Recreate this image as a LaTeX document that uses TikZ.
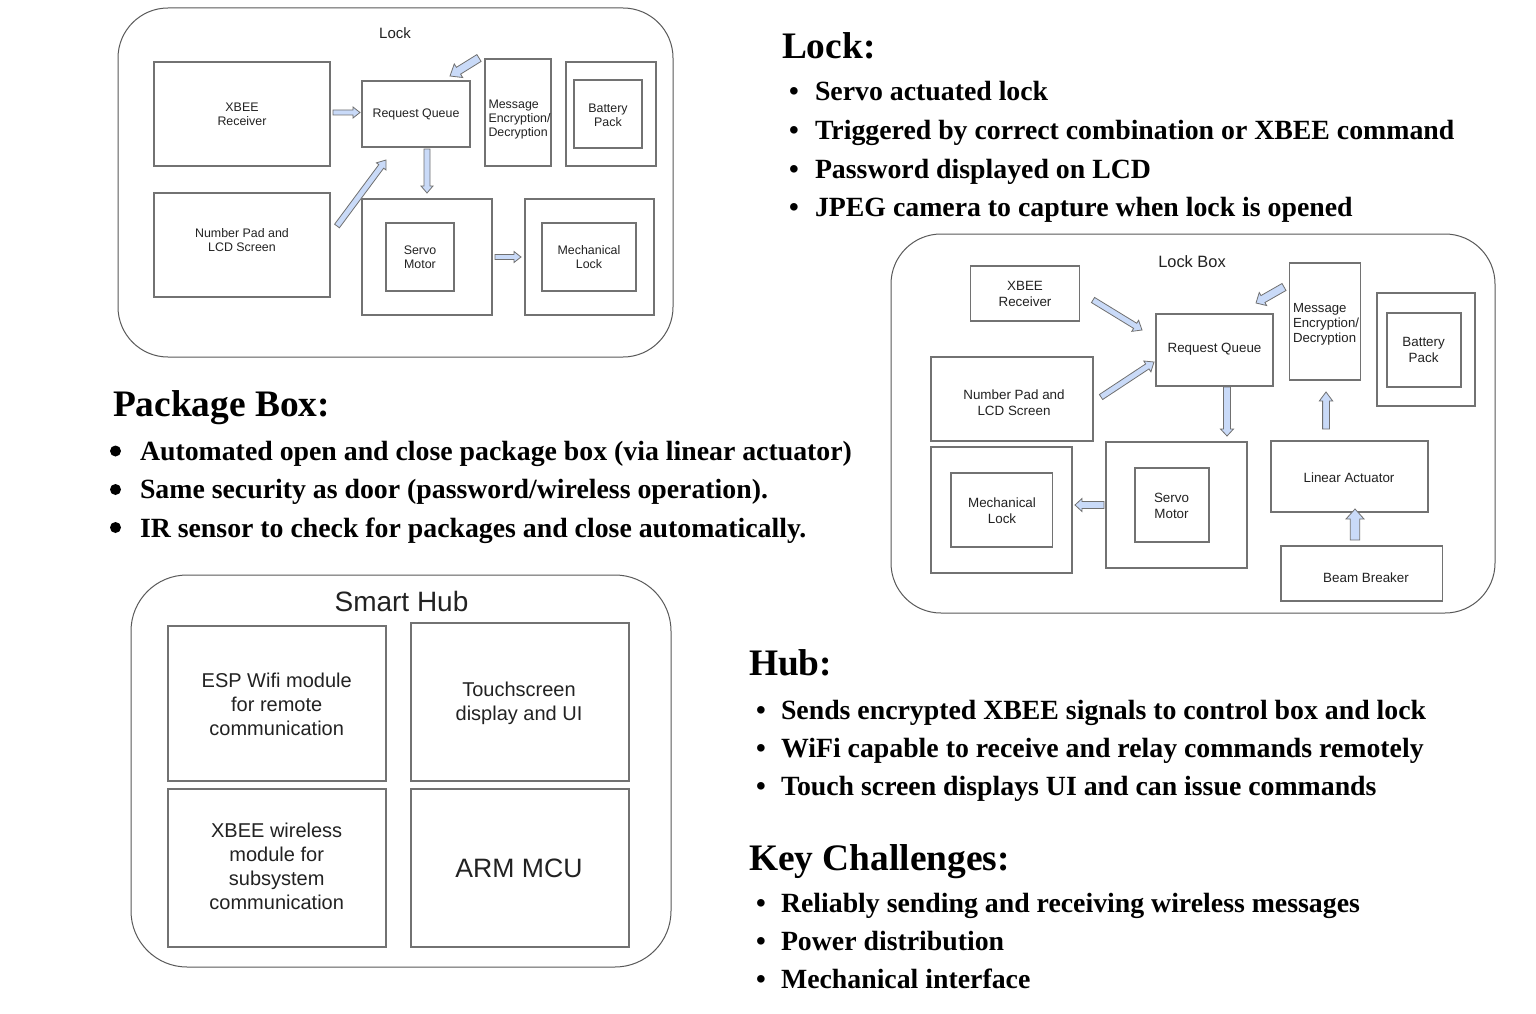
\documentclass[tikz,border=0pt]{standalone}
\usepackage{fontspec}
\setmainfont{Liberation Serif}
\newfontfamily\arialf{Liberation Sans}
\usetikzlibrary{calc}
\definecolor{arrowfill}{HTML}{C9DAF8}
\definecolor{arrowline}{HTML}{707070}
\definecolor{boxline}{HTML}{727272}
\definecolor{txt}{HTML}{222222}
\tikzset{
 every node/.style={inner sep=0pt, outer sep=0pt},
 box/.style={draw=boxline, line width=1.1pt, rectangle},
 outerbox/.style={draw=black!65, line width=1pt, rounded corners=50pt},
 lbl/.style={font=\arialf\fontsize{12.4}{14}\selectfont, align=center, text=txt},
 lblB/.style={font=\arialf\fontsize{13.4}{16}\selectfont, align=center, text=txt},
 lblH/.style={font=\arialf\fontsize{20}{24}\selectfont, align=center, text=txt},
 blockarrow/.style={draw=arrowline, fill=arrowfill, line width=0.8pt, line join=miter},
 heading/.style={font=\bfseries\fontsize{37.4}{44}\selectfont, anchor=base west},
 bul/.style={font=\bfseries\fontsize{27.8}{33}\selectfont, anchor=base west},
 dotbul/.style={circle, fill=black, minimum size=11pt},
}
\newcommand\blkarrow[6]{%
 \coordinate (#1h) at ($(#3)!#6!(#2)$);
 \draw[blockarrow] ($(#2)!#4!90:(#3)$) -- ($(#1h)!#4!-90:(#2)$) -- ($(#1h)!#5!-90:(#2)$) -- (#3) -- ($(#1h)!#5!90:(#2)$) -- ($(#1h)!#4!90:(#2)$) -- ($(#2)!#4!-90:(#3)$) -- cycle;}
\begin{document}
\begin{tikzpicture}[x=1pt,y=-1pt]
\useasboundingbox[fill=white] (0,0) rectangle (1536,1014);

% ================= Lock diagram =================
\draw[outerbox] (118,8) rectangle (673,357);
\node[lbl, font=\arialf\fontsize{15}{18}\selectfont] (lockT) at (395,33) {Lock};
\node[box, minimum width=176, minimum height=104] (lxbee) at (242,114) {};
\node[lbl] (lxbeeT) at (242,114) {XBEE\\Receiver};
\node[box, minimum width=108, minimum height=66] (lrq) at (416,114) {};
\node[lbl] (lrqT) at (416,114) {Request Queue};
\node[box, minimum width=66, minimum height=107] (lmsg) at (518,112.5) {};
\node[lbl, align=left, anchor=west] (lmsgT) at (488.5,120) {Message\\Encryption/\\Decryption};
\node[box, minimum width=90, minimum height=104] (lbato) at (611,114) {};
\node[box, minimum width=68, minimum height=68] (lbati) at (608,114) {};
\node[lbl] (lbatT) at (608,115) {Battery\\Pack};
\node[box, minimum width=176, minimum height=104] (lnum) at (242,245) {};
\node[lbl] (lnumT) at (242,240) {Number Pad and\\LCD Screen};
\node[box, minimum width=130, minimum height=116] (lsrvo) at (427,257) {};
\node[box, minimum width=68, minimum height=68] (lsrvi) at (420,257) {};
\node[lbl] (lsrvT) at (420,257.5) {Servo\\Motor};
\node[box, minimum width=129, minimum height=116] (lmecho) at (589.5,257) {};
\node[box, minimum width=94, minimum height=68] (lmechi) at (589,257) {};
\node[lbl] (lmechT) at (589,257.5) {Mechanical\\Lock};

\coordinate (a1s) at (333,112.5); \coordinate (a1e) at (360,112.5);
\coordinate (a2s) at (427,149); \coordinate (a2e) at (427,193);
\coordinate (a3s) at (337,226); \coordinate (a3e) at (386,160);
\coordinate (a4s) at (479,58); \coordinate (a4e) at (450,76);
\coordinate (a5s) at (495,257); \coordinate (a5e) at (521,257);
\blkarrow{a1}{a1s}{a1e}{2.5pt}{5.5pt}{7pt}
\blkarrow{a2}{a2s}{a2e}{3pt}{6pt}{7pt}
\blkarrow{a3}{a3s}{a3e}{3pt}{6pt}{8pt}
\blkarrow{a4}{a4s}{a4e}{4pt}{8pt}{10pt}
\blkarrow{a5}{a5s}{a5e}{2.5pt}{5.5pt}{7pt}

% ================= Lock Box diagram =================
\draw[outerbox] (891,234) rectangle (1495,613);
\node[lblB, font=\arialf\fontsize{16.4}{19}\selectfont] (lbT) at (1192,262) {Lock Box};
\node[box, minimum width=108.5, minimum height=55] (bxbee) at (1025,293.5) {};
\node[lblB] (bxbeeT) at (1025,293.7) {XBEE\\Receiver};
\node[box, minimum width=117, minimum height=72] (brq) at (1214.5,350) {};
\node[lblB] (brqT) at (1214.5,349) {Request Queue};
\node[box, minimum width=71.5, minimum height=117] (bmsg) at (1325,321.5) {};
\node[lblB, align=left, anchor=west, font=\arialf\fontsize{13.2}{15}\selectfont] (bmsgT) at (1293,324) {Message\\Encryption/\\Decryption};
\node[box, minimum width=98, minimum height=113] (bbato) at (1426,349.5) {};
\node[box, minimum width=74, minimum height=74] (bbati) at (1424,350) {};
\node[lblB] (bbatT) at (1423.6,350) {Battery\\Pack};
\node[box, minimum width=162, minimum height=84] (bnum) at (1012,399) {};
\node[lblB] (bnumT) at (1014,403) {Number Pad and\\LCD Screen};
\node[box, minimum width=141, minimum height=126] (bmecho) at (1001.5,510) {};
\node[box, minimum width=101.5, minimum height=74] (bmechi) at (1001.7,510) {};
\node[lblB] (bmechT) at (1002,510.7) {Mechanical\\Lock};
\node[box, minimum width=141, minimum height=126] (bsrvo) at (1176.5,505) {};
\node[box, minimum width=74, minimum height=74] (bsrvi) at (1172,505) {};
\node[lblB] (bsrvT) at (1171.5,505.5) {Servo\\Motor};
\node[box, minimum width=157, minimum height=71] (blin) at (1349.5,476.5) {};
\node[lblB] (blinT) at (1349,477.5) {Linear Actuator};
\node[box, minimum width=161.5, minimum height=55] (bbeam) at (1361.7,573.5) {};
\node[lblB] (bbeamT) at (1366,577.5) {Beam Breaker};

\coordinate (b1s) at (1093,300); \coordinate (b1e) at (1142,330);
\coordinate (b2s) at (1101,397); \coordinate (b2e) at (1154,362);
\coordinate (b3s) at (1284,287); \coordinate (b3e) at (1256,303);
\coordinate (b4s) at (1227,387); \coordinate (b4e) at (1227,436);
\coordinate (b5s) at (1104,505); \coordinate (b5e) at (1075,505);
\coordinate (b6s) at (1326,429); \coordinate (b6e) at (1326,392);
\coordinate (b7s) at (1355,540); \coordinate (b7e) at (1355,509);
\blkarrow{b1}{b1s}{b1e}{3pt}{6.5pt}{8pt}
\blkarrow{b2}{b2s}{b2e}{3pt}{6.5pt}{8pt}
\blkarrow{b3}{b3s}{b3e}{4pt}{7.5pt}{8pt}
\blkarrow{b4}{b4s}{b4e}{3.5pt}{6.5pt}{7pt}
\blkarrow{b5}{b5s}{b5e}{3.5pt}{6.5pt}{7pt}
\blkarrow{b6}{b6s}{b6e}{3.4pt}{6.7pt}{9pt}
\blkarrow{b7}{b7s}{b7e}{4.7pt}{9pt}{10pt}

% ================= Smart Hub diagram =================
\draw[outerbox, rounded corners=56pt] (131,575) rectangle (671,967);
\node[lblH, font=\arialf\fontsize{28}{32}\selectfont] (hubT) at (401.5,601) {Smart Hub};
\node[box, minimum width=218, minimum height=155] (hesp) at (277,703.5) {};
\node[lblH] (hespT) at (276.7,704) {ESP Wifi module\\for remote\\communication};
\node[box, minimum width=218, minimum height=158] (htouch) at (520,702) {};
\node[lblH] (htouchT) at (519,703) {Touchscreen\\display and UI};
\node[box, minimum width=218, minimum height=158] (hxbee) at (277,868) {};
\node[lblH] (hxbeeT) at (276.7,866) {XBEE wireless\\module for\\subsystem\\communication};
\node[box, minimum width=218, minimum height=158] (harm) at (520,868) {};
\node[lblH, font=\arialf\fontsize{26.6}{30}\selectfont] (harmT) at (519,868) {ARM MCU};

% ================= Text blocks =================
\node[heading] (lockH) at (782,59) {Lock:};
\node[bul] (lk1d) at (789,101) {•}; \node[bul] (lk1) at (815,101) {Servo actuated lock};
\node[bul] (lk2d) at (789,139.5) {•}; \node[bul] (lk2) at (815,139.5) {Triggered by correct combination or XBEE command};
\node[bul] (lk3d) at (789,178) {•}; \node[bul] (lk3) at (815,178) {Password displayed on LCD};
\node[bul] (lk4d) at (789,216) {•}; \node[bul] (lk4) at (815,216) {JPEG camera to capture when lock is opened};

\node[heading] (pkH) at (113,416) {Package Box:};
\node[dotbul] (pk1d) at (115.5,451) {}; \node[bul] (pk1) at (140,460) {Automated open and close package box (via linear actuator)};
\node[dotbul] (pk2d) at (115.5,489.5) {}; \node[bul] (pk2) at (140,498.5) {Same security as door (password/wireless operation).};
\node[dotbul] (pk3d) at (115.5,527.5) {}; \node[bul] (pk3) at (140,537) {IR sensor to check for packages and close automatically.};

\node[heading] (hbH) at (749,675) {Hub:};
\node[bul] (hb1d) at (756,719) {•}; \node[bul] (hb1) at (781,719) {Sends encrypted XBEE signals to control box and lock};
\node[bul] (hb2d) at (756,757) {•}; \node[bul] (hb2) at (781,757) {WiFi capable to receive and relay commands remotely};
\node[bul] (hb3d) at (756,795) {•}; \node[bul] (hb3) at (781,795) {Touch screen displays UI and can issue commands};

\node[heading] (kcH) at (749,870) {Key Challenges:};
\node[bul] (kc1d) at (756,912) {•}; \node[bul] (kc1) at (781,912) {Reliably sending and receiving wireless messages};
\node[bul] (kc2d) at (756,950) {•}; \node[bul] (kc2) at (781,950) {Power distribution};
\node[bul] (kc3d) at (756,988) {•}; \node[bul] (kc3) at (781,988) {Mechanical interface};
\end{tikzpicture}
\end{document}
